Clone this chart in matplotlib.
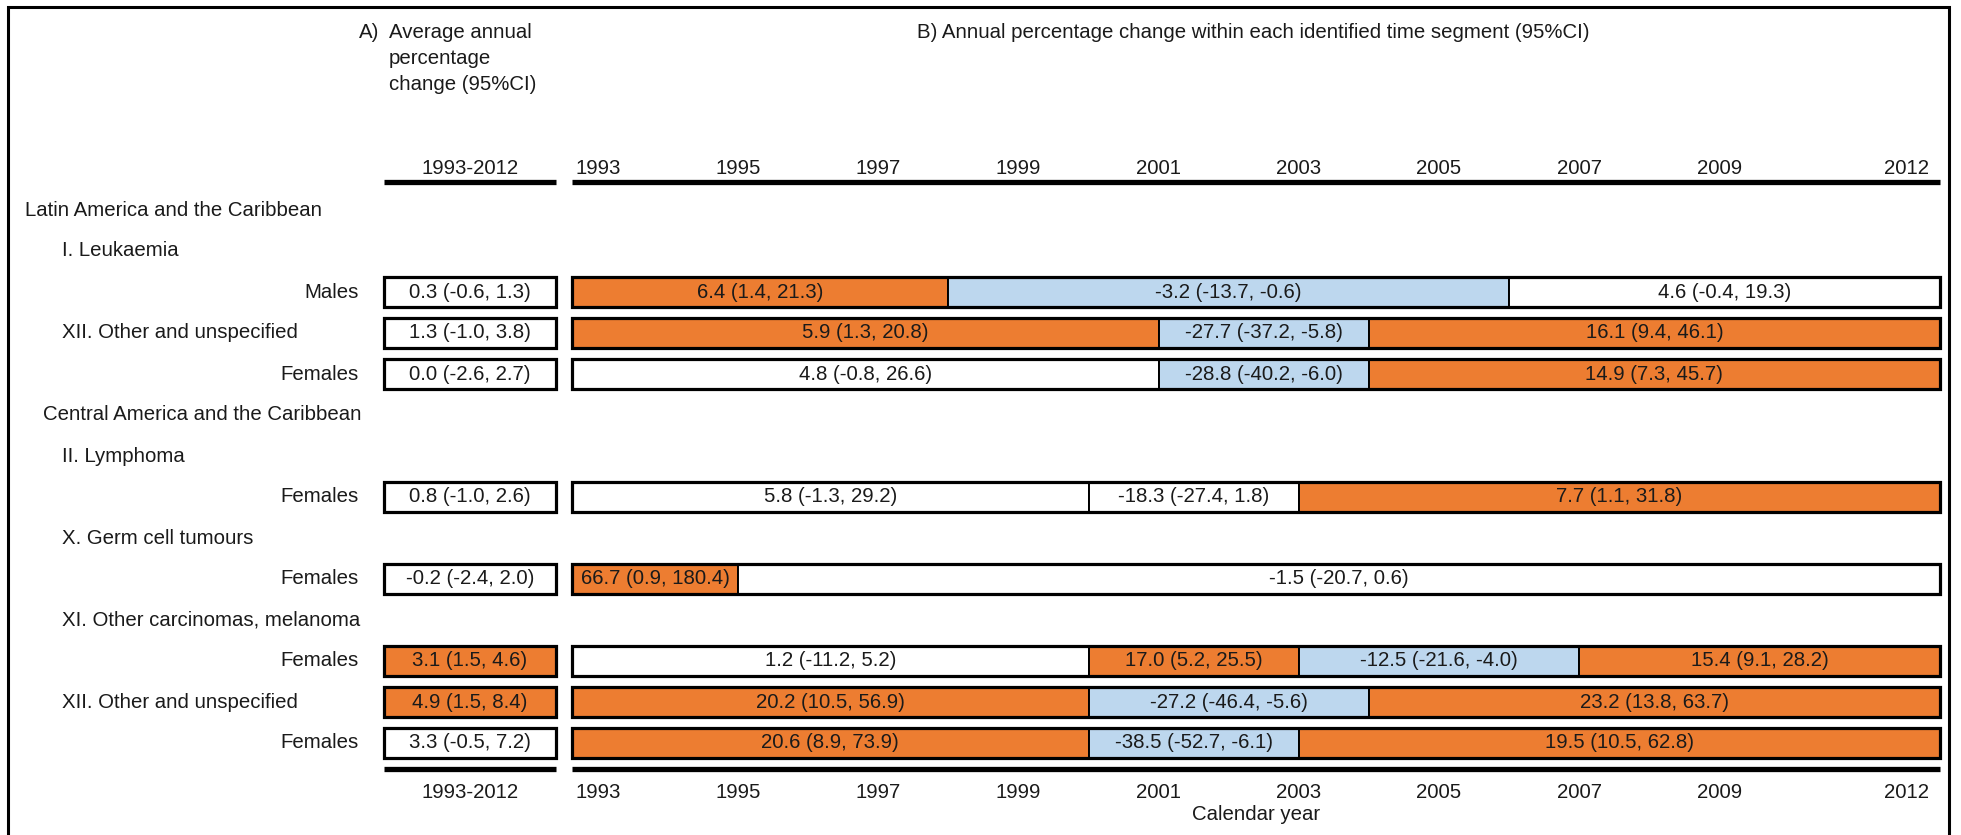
import matplotlib
matplotlib.use('Agg')
import matplotlib.pyplot as plt
import matplotlib.transforms as mtransforms
from matplotlib.patches import Rectangle

plt.rcParams['font.family'] = ['Liberation Sans', 'DejaVu Sans']
plt.rcParams['font.size'] = 14.7

# ---------------------------------------------------------
# Data
# ---------------------------------------------------------
row_labels = ['Latin America and the Caribbean', 'I. Leukaemia', 'Males',
              'XII. Other and unspecified', 'Females',
              'Central America and the Caribbean', 'II. Lymphoma', 'Females',
              'X. Germ cell tumours', 'Females',
              'XI. Other carcinomas, melanoma', 'Females',
              'XII. Other and unspecified', 'Females']
row_kinds = ['region', 'group', 'sex', 'group', 'sex',
             'region2', 'group', 'sex', 'group', 'sex',
             'group', 'sex', 'group', 'sex']

# rows that carry estimates
data_rows = [2, 3, 4, 7, 9, 11, 12, 13]

# A) average annual percentage change 1993-2012
aapc_val = [0.3, 1.3, 0.0, 0.8, -0.2, 3.1, 4.9, 3.3]
aapc_lo = [-0.6, -1.0, -2.6, -1.0, -2.4, 1.5, 1.5, -0.5]
aapc_hi = [1.3, 3.8, 2.7, 2.6, 2.0, 4.6, 8.4, 7.2]

# B) joinpoint years and APC of each segment
seg_breaks = [[1998, 2006], [2001, 2004], [2001, 2004], [2000, 2003],
              [1995], [2000, 2003, 2007], [2000, 2004], [2000, 2003]]
seg_apc = [[6.4, -3.2, 4.6], [5.9, -27.7, 16.1], [4.8, -28.8, 14.9],
           [5.8, -18.3, 7.7], [66.7, -1.5], [1.2, 17.0, -12.5, 15.4],
           [20.2, -27.2, 23.2], [20.6, -38.5, 19.5]]
seg_lo = [[1.4, -13.7, -0.4], [1.3, -37.2, 9.4], [-0.8, -40.2, 7.3],
          [-1.3, -27.4, 1.1], [0.9, -20.7], [-11.2, 5.2, -21.6, 9.1],
          [10.5, -46.4, 13.8], [8.9, -52.7, 10.5]]
seg_hi = [[21.3, -0.6, 19.3], [20.8, -5.8, 46.1], [26.6, -6.0, 45.7],
          [29.2, 1.8, 31.8], [180.4, 0.6], [5.2, 25.5, -4.0, 28.2],
          [56.9, -5.6, 63.7], [73.9, -6.1, 62.8]]

year_ticks = [1993, 1995, 1997, 1999, 2001, 2003, 2005, 2007, 2009, 2012]
period_label = '1993-2012'

# ---------------------------------------------------------
# Styling / layout
# ---------------------------------------------------------
col_up = '#ED7D31'
col_down = '#BDD7EE'
col_ns = 'white'
txt_col = '#1a1a1a'
W, H = 1961, 835
top_px, bot_px = 182, 769
x_lim = (1992.63, 2012.15)
y_lim = ((bot_px - 210) / 41, (top_px - 210) / 41)
bar_h = 0.74
label_x = {'region': 25, 'region2': 43, 'group': 62, 'sex': 359}


def seg_color(lo, hi):
    if lo > 0:
        return col_up
    if hi < 0:
        return col_down
    return col_ns


def fmt(v, lo, hi):
    return f'{v:.1f} ({lo:.1f}, {hi:.1f})'


def style_panel(ax, ticks, labels):
    ax.set_ylim(*y_lim)
    ax.set_yticks([])
    for s in ('left', 'right'):
        ax.spines[s].set_visible(False)
    for s in ('top', 'bottom'):
        ax.spines[s].set_linewidth(3.8)
        ax.spines[s].set_capstyle('butt')
    ax.set_xticks(ticks)
    ax.set_xticklabels(labels)
    ax.tick_params(axis='x', length=0, pad=3, top=True, labeltop=True,
                   bottom=False, labelbottom=False, labelcolor=txt_col)
    ax.patch.set_alpha(0)
    # bottom copy of the scale, a little further from the rule
    sec = ax.secondary_xaxis('bottom')
    sec.spines['bottom'].set_visible(False)
    sec.set_xticks(ticks)
    sec.set_xticklabels(labels)
    sec.tick_params(axis='x', length=0, pad=10, labelcolor=txt_col)
    return sec


fig = plt.figure(figsize=(W / 100, H / 100), dpi=100)
ax_b = fig.add_axes([572 / W, 1 - bot_px / H, (1940 - 572) / W, (bot_px - top_px) / H])
ax_a = fig.add_axes([384 / W, 1 - bot_px / H, (556 - 384) / W, (bot_px - top_px) / H])

# Panel A
ax_a.set_xlim(0, 1)
style_panel(ax_a, [0.5], [period_label])
for r, v, lo, hi in zip(data_rows, aapc_val, aapc_lo, aapc_hi):
    ax_a.barh(r, 1, left=0, height=bar_h, color=seg_color(lo, hi),
              edgecolor='black', linewidth=2.3, clip_on=False)
    ax_a.text(0.5, r, fmt(v, lo, hi), ha='center', va='center', color=txt_col)

# Panel B
ax_b.set_xlim(*x_lim)
sec_b = style_panel(ax_b, year_ticks, [str(y) for y in year_ticks])
ax_b.get_xticklabels()[-1].set_horizontalalignment('right')
sec_b.get_xticklabels()[-1].set_horizontalalignment('right')
sec_b.set_xlabel('Calendar year', labelpad=2, color=txt_col)

for r, br, apc, lo, hi in zip(data_rows, seg_breaks, seg_apc, seg_lo, seg_hi):
    edges = [x_lim[0]] + br + [x_lim[1]]
    for i in range(len(apc)):
        x0, x1 = edges[i], edges[i + 1]
        ax_b.barh(r, x1 - x0, left=x0, height=bar_h,
                  color=seg_color(lo[i], hi[i]), edgecolor='black',
                  linewidth=1.4, clip_on=False)
        ax_b.text((x0 + x1) / 2, r, fmt(apc[i], lo[i], hi[i]),
                  ha='center', va='center', color=txt_col)
    ax_b.barh(r, x_lim[1] - x_lim[0], left=x_lim[0], height=bar_h,
              fill=False, edgecolor='black', linewidth=2.3, clip_on=False)

# Row labels
trans = mtransforms.blended_transform_factory(fig.transFigure, ax_a.transData)
for r, (lab, kind) in enumerate(zip(row_labels, row_kinds)):
    ha = 'right' if kind == 'sex' else 'left'
    fig.text(label_x[kind] / W, r, lab, transform=trans, ha=ha, va='center',
             color=txt_col)

# Headers
fig.text(359 / W, 1 - 32 / H, 'A)', ha='left', va='center', color=txt_col)
for i, line in enumerate(['Average annual', 'percentage', 'change (95%CI)']):
    fig.text(389 / W, 1 - (32 + 26.5 * i) / H, line, ha='left', va='center',
             color=txt_col)
fig.text(917 / W, 1 - 32 / H,
         'B) Annual percentage change within each identified time segment (95%CI)',
         ha='left', va='center', color=txt_col)

# Outer frame
fig.add_artist(Rectangle((8 / W, -0.01), (1949 - 8) / W, 1.01 - 7 / H,
                         transform=fig.transFigure, fill=False,
                         edgecolor='black', linewidth=2.2))

fig.savefig('out.png', dpi=100)
